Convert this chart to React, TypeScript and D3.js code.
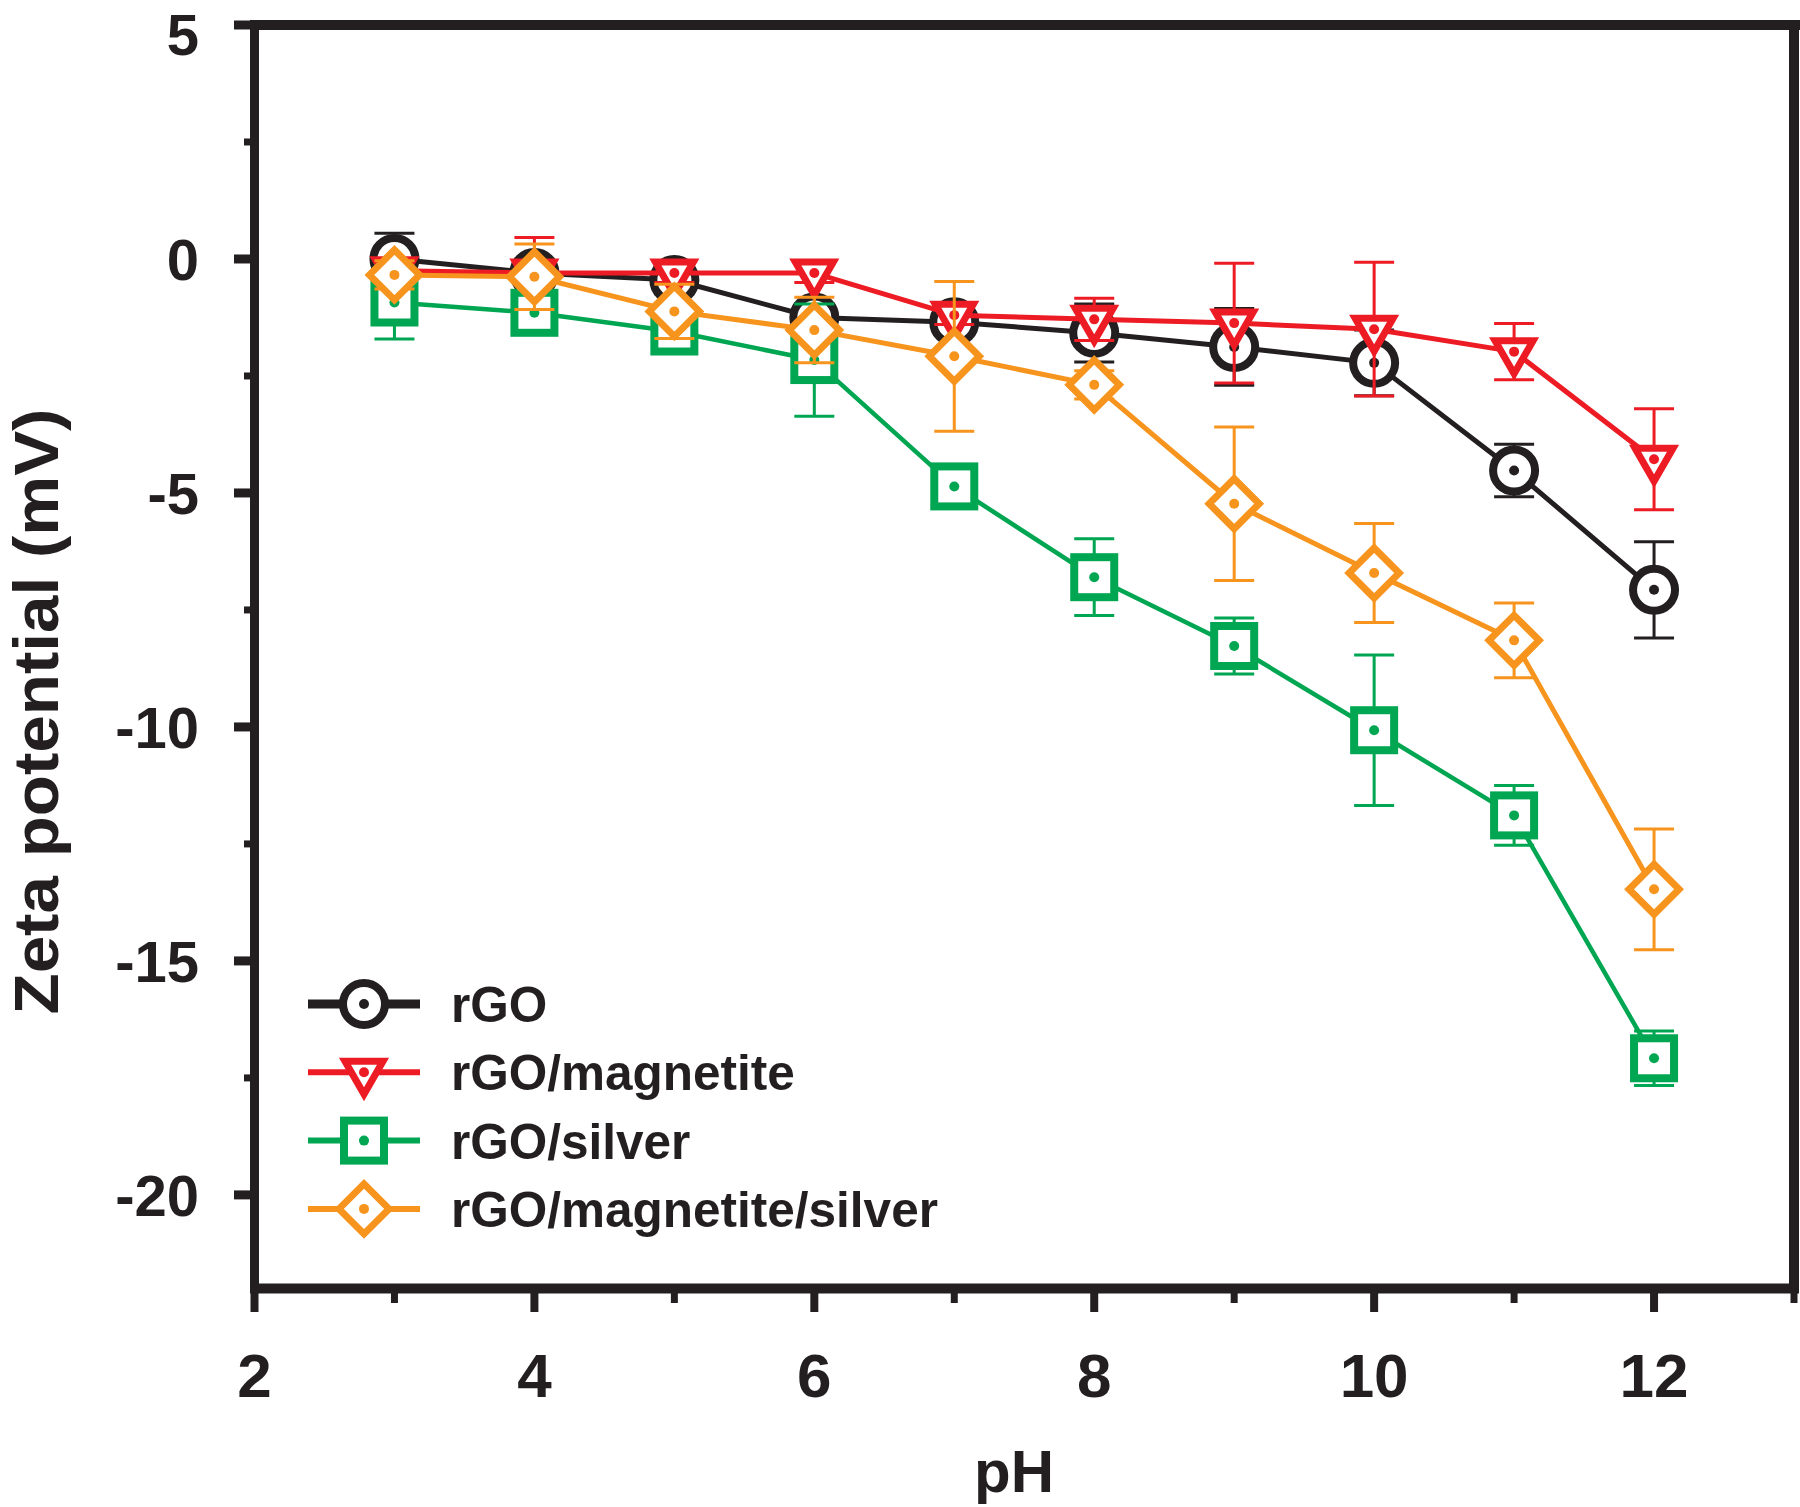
import React from "react";
import * as d3 from "d3";

// ---- data ----
const PH = [3, 4, 5, 6, 7, 8, 9, 10, 11, 12];

const RGO = [0.0, -0.3, -0.45, -1.25, -1.35, -1.58, -1.88, -2.22, -4.52, -7.07];
const RGO_ERR = [0.55, 0.3, 0.3, 0.3, 0.25, 0.62, 0.82, 0.7, 0.56, 1.03];

const RGO_MAG = [-0.25, -0.3, -0.3, -0.3, -1.2, -1.29, -1.37, -1.5, -1.98, -4.28];
const RGO_MAG_ERR = [0.2, 0.76, 0.2, 0.2, 0.2, 0.45, 1.28, 1.43, 0.6, 1.08];

const RGO_AG = [-0.93, -1.15, -1.55, -2.16, -4.86, -6.8, -8.27, -10.07, -11.89, -17.08];
const RGO_AG_ERR = [0.78, 0.3, 0.3, 1.2, 0.3, 0.82, 0.6, 1.61, 0.64, 0.58];

const RGO_MAG_AG = [-0.34, -0.38, -1.12, -1.52, -2.08, -2.69, -5.23, -6.71, -8.15, -13.47];
const RGO_MAG_AG_ERR = [0.3, 0.7, 0.58, 0.7, 1.6, 0.3, 1.64, 1.06, 0.8, 1.29];

const SERIES_NAMES = ["rGO", "rGO/magnetite", "rGO/silver", "rGO/magnetite/silver"];
const SERIES_VALUES = [RGO, RGO_MAG, RGO_AG, RGO_MAG_AG];
const SERIES_ERRORS = [RGO_ERR, RGO_MAG_ERR, RGO_AG_ERR, RGO_MAG_AG_ERR];
const SERIES_COLORS = ["#231f20", "#ed1c24", "#00a651", "#f7941d"];
const SERIES_SHAPES = ["circle", "triangle", "square", "diamond"];

const X_MAJOR_TICKS = [2, 4, 6, 8, 10, 12];
const X_MINOR_TICKS = [3, 5, 7, 9, 11, 13];
const Y_MAJOR_TICKS = [5, 0, -5, -10, -15, -20];
const Y_MINOR_TICKS = [2.5, -2.5, -7.5, -12.5, -17.5];

const X_LABEL = "pH";
const Y_LABEL = "Zeta potential (mV)";

const FONT = "'Liberation Sans', Arial, Helvetica, sans-serif";

function Marker({ shape, color, cx, cy }: { shape: string; color: string; cx: number; cy: number }) {
  let body: React.ReactNode = null;
  if (shape === "circle") {
    body = <circle r={21} fill="#fff" stroke={color} strokeWidth={8} />;
  } else if (shape === "triangle") {
    body = (
      <path d="M-19,-11L19,-11L0,22Z" fill="#fff" stroke={color} strokeWidth={7} strokeLinejoin="miter" />
    );
  } else if (shape === "square") {
    body = <rect x={-20} y={-20} width={40} height={40} fill="#fff" stroke={color} strokeWidth={8} />;
  } else {
    body = <path d="M0,-25L25,0L0,25L-25,0Z" fill="#fff" stroke={color} strokeWidth={7} strokeLinejoin="miter" />;
  }
  return (
    <g transform={`translate(${cx},${cy})`}>
      {body}
      <circle r={5} fill={color} />
    </g>
  );
}

export default function App() {
  const W = 1800;
  const H = 1507;
  const x = d3.scaleLinear().domain([2, 13]).range([254.5, 1794]);
  const y = d3.scaleLinear().domain([-22, 5]).range([1288.5, 25]);

  const line = d3
    .line<[number, number]>()
    .x((d) => x(d[0]))
    .y((d) => y(d[1]));

  const legendRowY = (i: number) => 1004 + i * 68.3;

  return (
    <div style={{ position: "absolute", left: 0, top: 0, width: W, height: H, background: "#fff" }}>
      <svg width={W} height={H} viewBox={`0 0 ${W} ${H}`} style={{ display: "block" }}>
        <rect width={W} height={H} fill="#fff" />

        {/* series */}
        {SERIES_NAMES.map((name, si) => {
          const vals = SERIES_VALUES[si];
          const errs = SERIES_ERRORS[si];
          const color = SERIES_COLORS[si];
          const pts: [number, number][] = PH.map((p, i) => [p, vals[i]]);
          return (
            <g key={name}>
              <path d={line(pts) || ""} fill="none" stroke={color} strokeWidth={si === 2 ? 4.5 : 5} strokeLinejoin="round" />
              {PH.map((p, i) => {
                const cx = x(p);
                const top = y(vals[i] + errs[i]);
                const bot = y(vals[i] - errs[i]);
                return (
                  <g key={i} stroke={color} strokeWidth={3}>
                    <line x1={cx} x2={cx} y1={top} y2={bot} />
                    <line x1={cx - 20} x2={cx + 20} y1={top} y2={top} />
                    <line x1={cx - 20} x2={cx + 20} y1={bot} y2={bot} />
                  </g>
                );
              })}
              {PH.map((p, i) => (
                <Marker key={`m${i}`} shape={SERIES_SHAPES[si]} color={color} cx={x(p)} cy={y(vals[i])} />
              ))}
            </g>
          );
        })}

        {/* frame */}
        <g stroke="#231f20" strokeLinecap="butt">
          <line x1={250} x2={1800} y1={25} y2={25} strokeWidth={10} />
          <line x1={1794} x2={1794} y1={20} y2={1293} strokeWidth={10} />
          <line x1={254.5} x2={254.5} y1={20} y2={1293} strokeWidth={9} />
          <line x1={250} x2={1799} y1={1288.5} y2={1288.5} strokeWidth={10} />
          {Y_MAJOR_TICKS.map((t) => (
            <line key={`ym${t}`} x1={234} x2={252} y1={y(t)} y2={y(t)} strokeWidth={9} />
          ))}
          {Y_MINOR_TICKS.map((t) => (
            <line key={`yn${t}`} x1={244} x2={252} y1={y(t)} y2={y(t)} strokeWidth={7} />
          ))}
          {X_MAJOR_TICKS.map((t) => (
            <line key={`xm${t}`} x1={x(t)} x2={x(t)} y1={1290} y2={1312} strokeWidth={8} />
          ))}
          {X_MINOR_TICKS.map((t) => (
            <line key={`xn${t}`} x1={Math.min(x(t), 1795)} x2={Math.min(x(t), 1795)} y1={1290} y2={1303} strokeWidth={7} />
          ))}
        </g>

        {/* tick labels */}
        <g fontFamily={FONT} fontWeight="bold" fill="#231f20">
          {X_MAJOR_TICKS.map((t) => (
            <text key={`xl${t}`} x={x(t)} y={1397} fontSize={62} textAnchor="middle">
              {t}
            </text>
          ))}
          {Y_MAJOR_TICKS.map((t) => (
            <text key={`yl${t}`} x={199} y={Math.max(y(t), 34)} dy="0.36em" fontSize={58} textAnchor="end">
              {t}
            </text>
          ))}
          <text x={1014} y={1492} fontSize={60} textAnchor="middle">
            {X_LABEL}
          </text>
          <text
            transform={`translate(58,711.5) rotate(-90)`}
            fontSize={63}
            textAnchor="middle"
            textLength={606}
            lengthAdjust="spacingAndGlyphs"
          >
            {Y_LABEL}
          </text>
        </g>

        {/* legend */}
        <g>
          {SERIES_NAMES.map((name, si) => {
            const ly = legendRowY(si);
            const color = SERIES_COLORS[si];
            return (
              <g key={`lg${si}`}>
                <line x1={308} x2={420} y1={ly} y2={ly} stroke={color} strokeWidth={si === 0 ? 9 : 6} />
                <Marker shape={SERIES_SHAPES[si]} color={color} cx={364} cy={ly} />
                <text x={451} y={ly + 18} fontFamily={FONT} fontWeight="bold" fontSize={49.5} fill="#231f20">
                  {name}
                </text>
              </g>
            );
          })}
        </g>
      </svg>
    </div>
  );
}
